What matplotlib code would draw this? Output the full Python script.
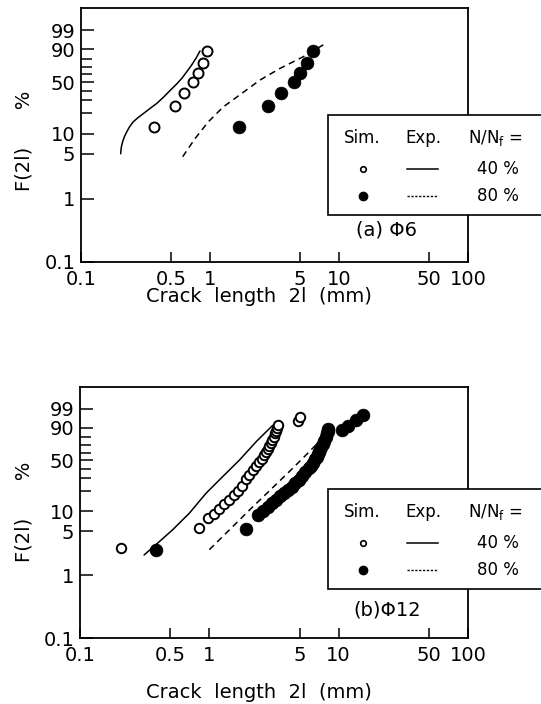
import numpy as np
import matplotlib
matplotlib.use("Agg")
import matplotlib.pyplot as plt
from matplotlib.patches import Rectangle
from matplotlib.lines import Line2D
from matplotlib.ticker import FixedLocator, NullLocator, FixedFormatter

# ---------------- data (crack length in mm, F in %) ----------------
# Panel (a) Phi 6
a_sim40_x = [0.37, 0.535, 0.625, 0.742, 0.808, 0.882, 0.948]
a_sim40_F = [12.5, 25, 37, 50, 62, 75, 88]
a_sim80_x = [1.69, 2.83, 3.53, 4.45, 5.02, 5.62, 6.3]
a_sim80_F = [12.5, 25, 37, 50, 62, 75, 88]
a_exp40_x = [0.203, 0.205, 0.210, 0.217, 0.226, 0.238, 0.254, 0.277, 0.304, 0.343,
             0.386, 0.44, 0.49, 0.55, 0.604, 0.66, 0.721, 0.78, 0.837]
a_exp40_F = [5.0, 6.2, 7.6, 9.1, 10.7, 12.8, 15.1, 17.4, 19.8, 23.4,
             27.3, 33.5, 40.0, 47.5, 54.8, 63.5, 72.6, 81.0, 88.4]
a_exp80_x = [0.614, 0.765, 0.970, 1.268, 1.761, 2.44, 3.49, 5.29, 7.55]
a_exp80_F = [4.5, 8.5, 15.1, 24.6, 36.8, 52.7, 68.1, 82.6, 93.2]

# Panel (b) Phi 12
b_sim40_x = [0.207, 0.826, 0.97, 1.08, 1.18, 1.30, 1.42, 1.54, 1.66, 1.79, 1.92,
             2.04, 2.17, 2.30, 2.42, 2.54, 2.64, 2.73, 2.82, 2.91, 3.00, 3.07,
             3.14, 3.21, 3.26, 3.32, 3.37, 4.84, 4.99]
b_sim40_F = [2.7, 5.5, 7.9, 9.3, 10.9, 13.0, 14.9, 17.3, 19.9, 23.8, 29.0,
             33.5, 38.2, 42.8, 47.4, 51.5, 56.3, 60.9, 65.3, 69.5, 73.5, 77.2,
             80.9, 84.4, 87.1, 89.8, 92.4, 94.5, 96.7]
b_sim80_x = [0.386, 1.925, 2.36, 2.60, 2.84, 3.05, 3.28, 3.52, 3.78, 4.07, 4.36,
             4.63, 4.94, 5.20, 5.52, 5.85, 6.07, 6.30, 6.52, 6.75, 6.90, 7.04,
             7.19, 7.34, 7.55, 7.75, 7.93, 8.13, 8.20, 8.26, 10.55, 11.74, 13.54, 15.35]
b_sim80_F = [2.5, 5.4, 8.8, 10.2, 11.6, 13.2, 15.0, 16.7, 18.8, 21.0, 23.2,
             25.8, 28.5, 32.0, 36.0, 40.2, 43.5, 47.0, 51.0, 54.6, 58.0, 61.5,
             65.0, 68.0, 72.0, 76.0, 80.0, 84.4, 87.0, 89.2, 88.3, 91.7, 95.0, 97.6]
b_exp40_x = [0.313, 0.375, 0.519, 0.70, 0.943, 1.268, 1.708, 2.30, 3.095]
b_exp40_F = [2.1, 2.9, 5.2, 9.4, 18.6, 31.6, 50.2, 74.6, 91.9]
b_exp80_x = [1.0, 1.429, 2.042, 2.917, 4.17, 5.96, 8.67]
b_exp80_F = [2.55, 5.2, 10.5, 20.2, 36.9, 61.7, 88.3]

x_ticks = [0.1, 0.5, 1, 5, 10, 50, 100]
x_ticklabels = ["0.1", "0.5", "1", "5", "10", "50", "100"]
y_ticks = [0.1, 1, 5, 10, 50, 90, 99]
y_ticklabels = ["0.1", "1", "5", "10", "50", "90", "99"]
y_minor = [20, 30, 40, 60, 70, 80]

# ---------------- Weibull probability scale ----------------
def fwd(F):
    F = np.clip(np.asarray(F, dtype=float), 1e-6, 100 - 1e-9)
    return np.log(-np.log(1 - F / 100.0))

def inv(w):
    w = np.asarray(w, dtype=float)
    return 100.0 * (1 - np.exp(-np.exp(w)))

W = 541
H = 704
plt.rcParams['font.family'] = ['DejaVu Sans']
fig = plt.figure(figsize=(W / 100, H / 100), dpi=100)

def fx(px):
    return px / W

def fy(py):
    return 1 - py / H

FS = 14

def make_axes(left, right, top, bottom):
    ax = fig.add_axes([fx(left), fy(bottom), fx(right) - fx(left), fy(top) - fy(bottom)])
    ax.set_xscale('log')
    ax.set_yscale('function', functions=(fwd, inv))
    ax.set_xlim(0.1, 100)
    ax.set_ylim(0.1, float(inv(2.33)))
    ax.xaxis.set_major_locator(FixedLocator(x_ticks))
    ax.xaxis.set_major_formatter(FixedFormatter(x_ticklabels))
    ax.xaxis.set_minor_locator(NullLocator())
    ax.yaxis.set_major_locator(FixedLocator(y_ticks))
    ax.yaxis.set_major_formatter(FixedFormatter(y_ticklabels))
    ax.yaxis.set_minor_locator(FixedLocator(y_minor))
    ax.tick_params(axis='x', which='major', direction='in', length=7, width=1.1,
                   labelsize=FS, pad=6)
    ax.tick_params(axis='y', which='major', direction='in', length=9, width=1.1,
                   labelsize=FS, pad=4)
    ax.tick_params(axis='y', which='minor', direction='in', length=8, width=1.1)
    for s in ax.spines.values():
        s.set_linewidth(1.3)
    return ax

def draw_panel(ax, s40x, s40F, s80x, s80F, e40x, e40F, e80x, e80F, ms_open, ms_fill):
    ax.plot(e40x, e40F, color='black', lw=1.1, solid_capstyle='round')
    ax.plot(e80x, e80F, color='black', lw=1.1, linestyle=(0, (4.2, 3.0)))
    ax.plot(s40x, s40F, linestyle='none', marker='o', ms=ms_open, mfc='white',
            mec='black', mew=1.4)
    ax.plot(s80x, s80F, linestyle='none', marker='o', ms=ms_fill, mfc='black',
            mec='black', mew=0.5)

def draw_legend(top, label_y, label):
    rect = Rectangle((fx(328), fy(top + 100)), fx(570) - fx(328), fy(top) - fy(top + 100),
                     transform=fig.transFigure, facecolor='white', edgecolor='black',
                     lw=1.2, zorder=5)
    fig.add_artist(rect)
    r0, r1, r2 = top + 23, top + 54, top + 81
    lfs = 12
    fig.text(fx(362), fy(r0), "Sim.", ha='center', va='center', fontsize=lfs, zorder=6)
    fig.text(fx(423), fy(r0), "Exp.", ha='center', va='center', fontsize=lfs, zorder=6)
    fig.text(fx(468), fy(r0), r"N/N$_\mathregular{f}$ =", ha='left', va='center',
             fontsize=lfs, zorder=6)
    fig.add_artist(Line2D([fx(363)], [fy(r1)], transform=fig.transFigure, marker='o',
                          ms=4, mfc='white', mec='black', mew=1.2, zorder=6))
    fig.add_artist(Line2D([fx(363)], [fy(r2)], transform=fig.transFigure, marker='o',
                          ms=6, mfc='black', mec='black', zorder=6))
    fig.add_artist(Line2D([fx(407), fx(438)], [fy(r1), fy(r1)], transform=fig.transFigure,
                          color='black', lw=1.1, zorder=6))
    fig.add_artist(Line2D([fx(407), fx(438)], [fy(r2), fy(r2)], transform=fig.transFigure,
                          color='black', lw=1.0, linestyle=(0, (1.6, 1.2)), zorder=6))
    fig.text(fx(519), fy(r1), "40 %", ha='right', va='center', fontsize=lfs, zorder=6)
    fig.text(fx(519), fy(r2), "80 %", ha='right', va='center', fontsize=lfs, zorder=6)
    fig.text(fx(387), fy(label_y), label, ha='center', va='center', fontsize=FS, zorder=6)

# ---------------- panel (a) ----------------
ax_a = make_axes(81, 468, 8, 262)
draw_panel(ax_a, a_sim40_x, a_sim40_F, a_sim80_x, a_sim80_F,
           a_exp40_x, a_exp40_F, a_exp80_x, a_exp80_F, ms_open=7.2, ms_fill=9.2)
draw_legend(115, 230, "(a) Φ6")
fig.text(fx(24), fy(141), "F(2l)      %", rotation=90, ha='center', va='center', fontsize=FS)
fig.text(fx(259), fy(297), "Crack  length  2l  (mm)", ha='center', va='center', fontsize=FS)

# ---------------- panel (b) ----------------
ax_b = make_axes(80, 468, 387, 638)
draw_panel(ax_b, b_sim40_x, b_sim40_F, b_sim80_x, b_sim80_F,
           b_exp40_x, b_exp40_F, b_exp80_x, b_exp80_F, ms_open=6.8, ms_fill=9.2)
draw_legend(489, 610, "(b)Φ12")
fig.text(fx(24), fy(512), "F(2l)      %", rotation=90, ha='center', va='center', fontsize=FS)
fig.text(fx(259), fy(693), "Crack  length  2l  (mm)", ha='center', va='center', fontsize=FS)

fig.savefig("out.png", dpi=100)
